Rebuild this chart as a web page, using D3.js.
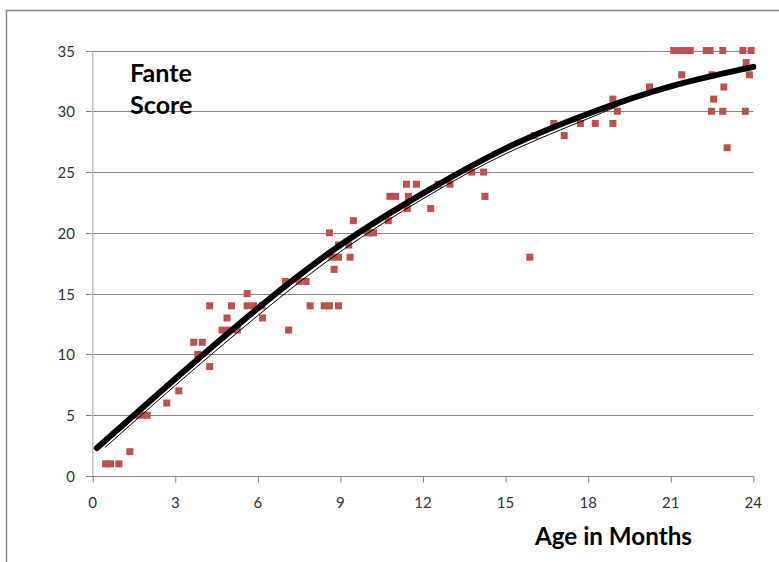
<!DOCTYPE html>
<html>
<head>
<meta charset="utf-8">
<script src="https://cdn.jsdelivr.net/npm/d3@7"></script>
<style>
  html, body { margin: 0; padding: 0; background: #fff; }
  svg { display: block; }
</style>
</head>
<body>
<svg id="chart" width="779" height="562"></svg>
<script>
// ---- data ----
const months = [
  0.47, 0.65, 0.95,
  1.35,
  1.62, 1.80, 1.98,
  2.69,
  3.13,
  4.25,
  3.82,
  3.67, 3.98,
  4.70, 4.94, 5.25, 7.12,
  4.88, 6.17,
  4.25, 5.04, 5.61, 5.85, 6.15, 7.90, 8.41, 8.60, 8.93,
  5.61,
  7.00, 7.50, 7.75,
  8.77,
  8.69, 8.93, 9.35, 15.88,
  8.93, 9.30,
  8.60, 10.00, 10.20,
  9.47, 10.74,
  11.43, 12.28,
  10.80, 11.00, 11.47, 14.25,
  11.40, 11.76, 12.55, 12.98,
  13.77, 14.20,
  16.04, 17.13,
  16.75, 17.72, 18.26, 18.90,
  19.06,
  18.90,
  20.23,
  21.40, 22.50, 23.86,
  22.93,
  22.56,
  22.48, 22.89, 23.71,
  23.05,
  23.74,
  21.11, 21.28, 21.53, 21.71, 22.29, 22.43, 22.89, 23.62, 23.92
];
const scores = [
  1, 1, 1,
  2,
  5, 5, 5,
  6,
  7,
  9,
  10,
  11, 11,
  12, 12, 12, 12,
  13, 13,
  14, 14, 14, 14, 14, 14, 14, 14, 14,
  15,
  16, 16, 16,
  17,
  18, 18, 18, 18,
  19, 19,
  20, 20, 20,
  21, 21,
  22, 22,
  23, 23, 23, 23,
  24, 24, 24, 24,
  25, 25,
  28, 28,
  29, 29, 29, 29,
  30,
  31,
  32,
  33, 33, 33,
  32,
  31,
  30, 30, 30,
  27,
  34,
  35, 35, 35, 35, 35, 35, 35, 35, 35
];
// fitted curve (thick)
const fitMonths = [0.15, 3, 6, 9, 12, 15, 18, 21, 24];
const fitScores = [2.3, 8.0, 13.8, 19.0, 23.25, 26.95, 29.8, 32.05, 33.65];
// second (thin) trend line
const trendMonths = [0.45, 3, 6, 9, 12, 15, 18, 19.6];
const trendScores = [2.35, 7.45, 13.2, 18.45, 22.8, 26.5, 29.4, 30.95];

const xTicks = [0, 3, 6, 9, 12, 15, 18, 21, 24];
const yTicks = [0, 5, 10, 15, 20, 25, 30, 35];
const yTitleLines = ["Fante", "Score"];
const xTitle = "Age in Months";

// ---- drawing ----
const svg = d3.select("#chart");
const x = d3.scaleLinear().domain([0, 24]).range([92.7, 753.3]);
const y = d3.scaleLinear().domain([0, 35]).range([476, 50.5]);

// outer chart frame (continues past the picture)
svg.append("path")
  .attr("d", "M6.5,562 L6.5,10.5 L779,10.5")
  .attr("fill", "none").attr("stroke", "#868686").attr("stroke-width", 1.5);

// horizontal gridlines with left tick stubs
svg.append("g").selectAll("line").data(yTicks.filter(d => d > 0)).join("line")
  .attr("x1", 86).attr("x2", x(24))
  .attr("y1", d => Math.round(y(d)) + 0.5).attr("y2", d => Math.round(y(d)) + 0.5)
  .attr("stroke", "#868686").attr("stroke-width", 1);

// y axis line (light)
svg.append("line")
  .attr("x1", x(0)).attr("x2", x(0)).attr("y1", y(35)).attr("y2", y(0))
  .attr("stroke", "#bfbfbf").attr("stroke-width", 1.5);

// x axis with downward ticks
const xAxis = d3.axisBottom(x).tickValues(xTicks).tickSize(6).tickSizeOuter(0).tickFormat("");
const gx = svg.append("g").attr("transform", `translate(0,${Math.round(y(0)) + 0.5})`).call(xAxis);
gx.select(".domain").attr("stroke", "#868686").attr("d", `M${x(0) - 6.7},0H${x(24)}`);
gx.selectAll(".tick line").attr("stroke", "#868686");

// tick labels
svg.append("g").selectAll("text").data(yTicks).join("text")
  .attr("x", 75).attr("y", d => y(d))
  .attr("text-anchor", "end").attr("dominant-baseline", "central")
  .attr("font-family", "Lato, 'Open Sans', sans-serif").attr("font-size", 15)
  .attr("fill", "#333").text(d => d);
svg.append("g").selectAll("text").data(xTicks).join("text")
  .attr("x", d => x(d)).attr("y", 502)
  .attr("text-anchor", "middle").attr("dominant-baseline", "central")
  .attr("font-family", "Lato, 'Open Sans', sans-serif").attr("font-size", 15)
  .attr("fill", "#333").text(d => d);

// markers
const pts = months.map((m, i) => ({ m, s: scores[i] }));
svg.append("g").selectAll("rect").data(pts).join("rect")
  .attr("x", d => x(d.m) - 3.5).attr("y", d => y(d.s) - 3.5)
  .attr("width", 7).attr("height", 7)
  .attr("fill", "#C0504D");

// thin trend line
const line = d3.line().x(d => x(d[0])).y(d => y(d[1])).curve(d3.curveNatural);
const trendPts = trendMonths.map((m, i) => [m, trendScores[i]]);
svg.append("path").datum(trendPts).attr("d", line)
  .attr("fill", "none").attr("stroke", "#000").attr("stroke-width", 1);

// thick fitted curve
const fitPts = fitMonths.map((m, i) => [m, fitScores[i]]);
svg.append("path").datum(fitPts).attr("d", line)
  .attr("fill", "none").attr("stroke", "#000").attr("stroke-width", 6)
  .attr("stroke-linecap", "round").attr("stroke-linejoin", "round");

// titles
function fitText(sel, targetWidth) {
  const w = sel.node().getComputedTextLength();
  const fs = parseFloat(sel.attr("font-size"));
  sel.attr("font-size", fs * targetWidth / w);
}
const yt1 = svg.append("text").attr("x", 130).attr("y", 82)
  .attr("font-family", "Lato, 'Open Sans', sans-serif").attr("font-weight", "bold")
  .attr("font-size", 22).attr("fill", "#000").text(yTitleLines[0]);
fitText(yt1, 62);
const yt2 = svg.append("text").attr("x", 130).attr("y", 113.5)
  .attr("font-family", "Lato, 'Open Sans', sans-serif").attr("font-weight", "bold")
  .attr("font-size", yt1.attr("font-size")).attr("fill", "#000").text(yTitleLines[1]);
const xt = svg.append("text").attr("x", 535).attr("y", 545)
  .attr("font-family", "Lato, 'Open Sans', sans-serif").attr("font-weight", "bold")
  .attr("font-size", 21).attr("fill", "#000").text(xTitle);
fitText(xt, 157);
</script>
</body>
</html>
